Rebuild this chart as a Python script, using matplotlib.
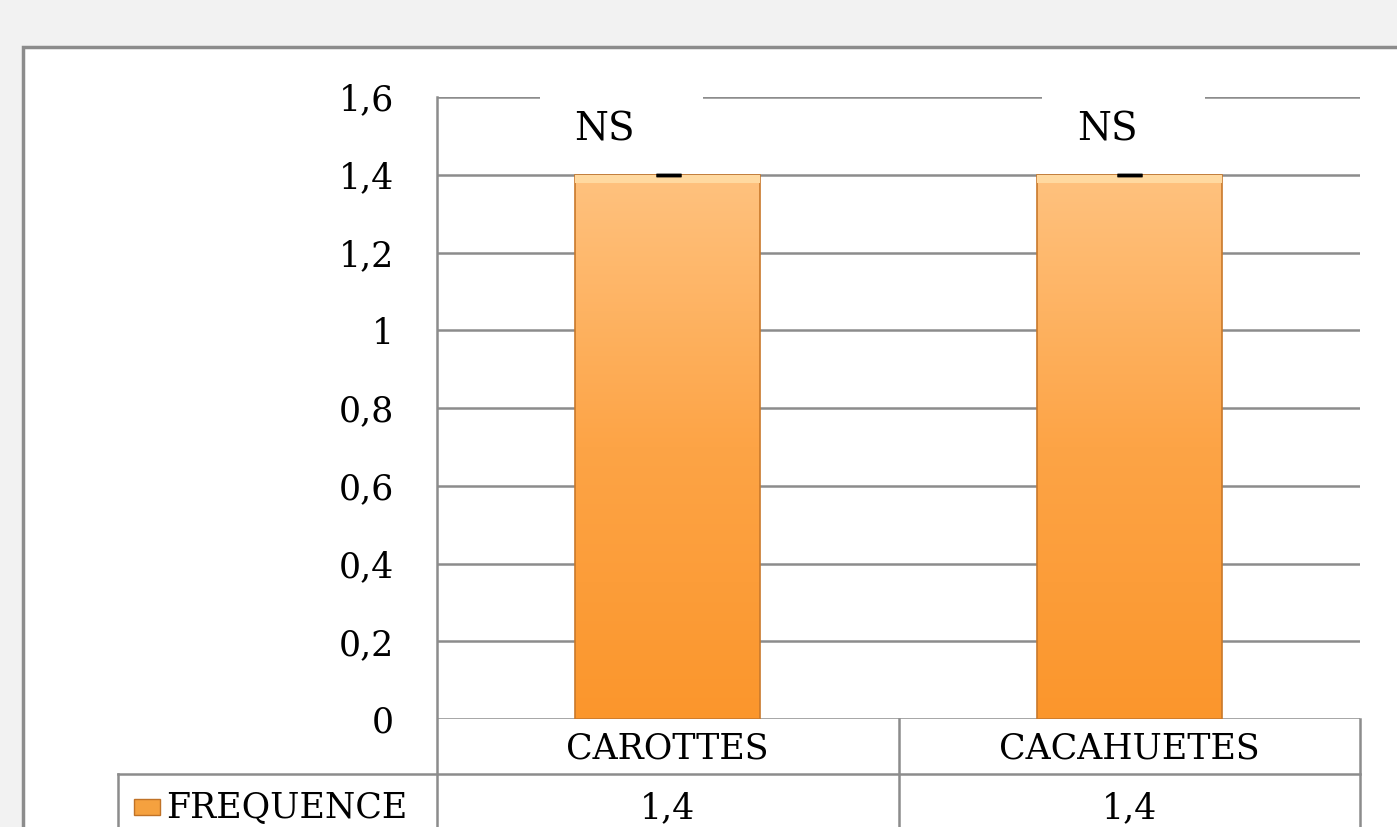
import matplotlib.pyplot as plt
import numpy as np
from matplotlib.colors import LinearSegmentedColormap
from matplotlib.patches import Rectangle
from matplotlib.transforms import blended_transform_factory

categories = ['CAROTTES', 'CACAHUETES']
frequence = [1.4, 1.4]
errors = [0.0, 0.0]
signif = ['NS', 'NS']
series_name = 'FREQUENCE'
yticks = [0, 0.2, 0.4, 0.6, 0.8, 1.0, 1.2, 1.4, 1.6]

GRID = '#8c8c8c'
FONT = 'DejaVu Serif'
FS = 25

W, H = 1397, 827
fig = plt.figure(figsize=(W / 100, H / 100), dpi=100)
fig.patch.set_facecolor('#f2f2f2')

# white chart area with grey frame, kept behind the axes
frame = Rectangle((23 / W, -0.1), 1.2, (827 - 47) / H + 0.1, transform=fig.transFigure,
                  facecolor='white', edgecolor=GRID, linewidth=2.5, zorder=-1)
fig.patches.append(frame)

ax = fig.add_axes([437 / W, (827 - 719) / H, 923 / W, 622 / H])
ax.set_facecolor('none')
for s in ax.spines.values():
    s.set_visible(False)
ax.set_xticks([])
ax.set_yticks(yticks)
ax.set_yticklabels([f'{v:g}'.replace('.', ',') for v in yticks], fontsize=FS, family=FONT)
ax.tick_params(axis='y', length=0, pad=31)
for v in yticks:
    ax.axhline(v, color=GRID, linewidth=1.8, zorder=1)

# bars with a vertical orange gradient
xs = np.arange(len(categories))
bar_w = 0.4
cmap = LinearSegmentedColormap.from_list('bar', ['#fb962c', '#fda446', '#ffc27f'])
grad = np.linspace(0, 1, 256).reshape(-1, 1)
for x, v in zip(xs, frequence):
    rect = Rectangle((x - bar_w / 2, 0), bar_w, v, facecolor='none',
                     edgecolor='#c9792b', linewidth=1.2, zorder=4)
    ax.add_patch(rect)
    img = ax.imshow(grad, cmap=cmap, aspect='auto', origin='lower',
                    extent=(x - bar_w / 2, x + bar_w / 2, 0, v), zorder=3)
    img.set_clip_path(rect)
    # light bevel along the top
    ax.add_patch(Rectangle((x - bar_w / 2, v - 0.02), bar_w, 0.02,
                           facecolor='#ffd9a0', edgecolor='none', zorder=4))
ax.set_xlim(-0.5, 1.5)
ax.set_ylim(0, 1.6)
ax.errorbar(xs, frequence, yerr=errors, fmt='none', ecolor='black',
            capsize=9, capthick=2.5, elinewidth=0, zorder=5)

# significance labels sitting on the top gridline
box_left = [-0.277, 0.811]
for bl, lab in zip(box_left, signif):
    ax.add_patch(Rectangle((bl, 1.5), 0.353, 0.2, facecolor='white',
                           edgecolor='none', zorder=2, clip_on=False))
    ax.text(bl + 0.075, 1.515, lab, ha='left', va='center', fontsize=28,
            family=FONT, zorder=3)

# data table under the axis
tr = blended_transform_factory(ax.transData, ax.transAxes)
row = 55 / 622
left_leg = (118 - 437) / 923
lk = dict(color=GRID, linewidth=1.8, clip_on=False, zorder=6)
ax.plot([0, 0], [1, -0.3], transform=ax.transAxes, **lk)
ax.plot([0.5, 0.5], [0, -0.3], transform=ax.transAxes, **lk)
ax.plot([1, 1], [0, -0.3], transform=ax.transAxes, **lk)
ax.plot([left_leg, 1], [-row, -row], transform=ax.transAxes, **lk)
ax.plot([left_leg, left_leg], [-row, -0.3], transform=ax.transAxes, **lk)

for x, c, v in zip(xs, categories, frequence):
    ax.text(x, -row / 2 - 0.003, c, transform=tr, ha='center', va='center',
            fontsize=FS, family=FONT, clip_on=False)
    ax.text(x, -row * 1.62, f'{v:g}'.replace('.', ','), transform=tr,
            ha='center', va='center', fontsize=FS, family=FONT, clip_on=False)

# legend key inside the table
key_x = (134 - 437) / 923
ax.add_patch(Rectangle((key_x, -row * 1.62 - 0.011), 26 / 923, 16 / 622,
                       transform=ax.transAxes, facecolor='#f5a13f',
                       edgecolor='#c07227', linewidth=1, clip_on=False))
ax.text((166 - 437) / 923, -row * 1.62, series_name, transform=ax.transAxes,
        ha='left', va='center', fontsize=FS, family=FONT, clip_on=False)

fig.savefig('out.png', dpi=100, facecolor=fig.get_facecolor())
